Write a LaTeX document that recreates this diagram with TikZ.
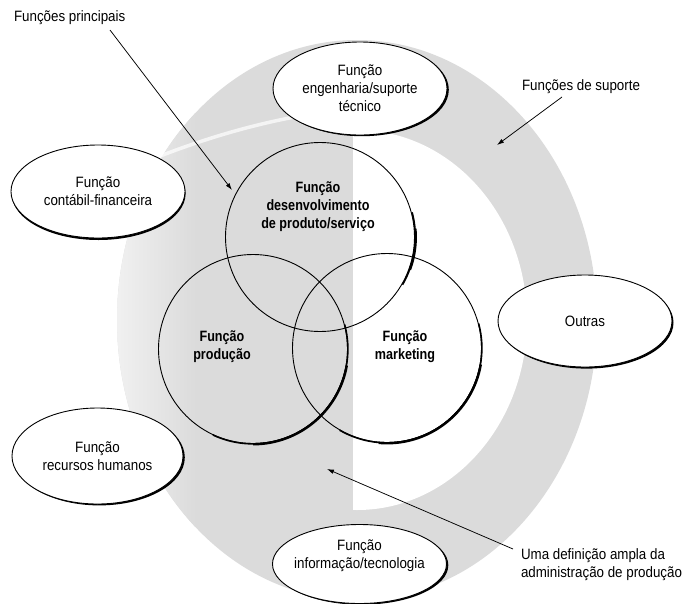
\documentclass[tikz,border=0pt]{standalone}
\usepackage{fontspec}
\setmainfont{Liberation Sans}[FakeStretch=0.89]
\newfontfamily\corefont{Liberation Sans}[FakeStretch=0.84]
\usetikzlibrary{shapes.geometric,arrows.meta,shadows}
\definecolor{ringgrey}{gray}{0.86}
\definecolor{edgegrey}{gray}{0.95}
\begin{document}
\begin{tikzpicture}[x=1pt,y=-1pt,
  every node/.style={inner sep=0pt, outer sep=0pt},
  txt/.style={font=\fontsize{15}{18}\selectfont, align=center},
  coretxt/.style={font=\corefont\bfseries\fontsize{15}{18}\selectfont, align=center},
  core/.style={circle, draw, line width=0.9pt, minimum size=189pt},
  support/.style={ellipse, draw, line width=0.9pt, fill=white,
    minimum width=174pt, minimum height=93pt, txt},
  rimshadow/.style 2 args={drop shadow={shadow xshift=#1pt, shadow yshift=#2pt,
    fill=black, opacity=1}},
  rim/.style={line width=1.6pt},
  rimheavy/.style={line width=2.4pt},
  pointer/.style={draw, line width=0.75pt, -{Latex[length=7pt,width=4.5pt]}},
]
% paper and the grey field of the operations area
\fill[white] (0,0) rectangle (683,603);
\fill[ringgrey] (357,320) ellipse [x radius=240, y radius=280];
\begin{scope}
  \clip (357,320) ellipse [x radius=240, y radius=280];
  \shade[left color=edgegrey, right color=ringgrey] (110,0) rectangle (195,603);
\end{scope}
\begin{scope}
  \clip (353,0) rectangle (683,603);
  \fill[white] (357,320) ellipse [x radius=170, y radius=190];
\end{scope}
\draw[white, opacity=0.7, line width=3.5pt, line cap=round]
  (150,160) .. controls (200,140) and (250,125) .. (300,116);
\useasboundingbox (0,0) rectangle (683,603);

% the three core functions
\node[core] (dev)  at (320,237) {};
\node[core] (prod) at (253,349) {};
\node[core] (mkt)  at (387,348) {};

% heavier rims on the lower right of the circles
\draw[rim]      ([shift={(-15:95.35)}]dev.center)  arc[start angle=-15, end angle=30,  radius=95.35];
\draw[rimheavy] ([shift={(-5:95.75)}]dev.center)   arc[start angle=-5,  end angle=20,  radius=95.75];
\draw[rim]      ([shift={(-15:94.85)}]prod.center) arc[start angle=-15, end angle=115, radius=94.85];
\draw[rimheavy] ([shift={(10:95.25)}]prod.center)  arc[start angle=10,  end angle=90,  radius=95.25];
\draw[rim]      ([shift={(-15:94.85)}]mkt.center)  arc[start angle=-15, end angle=120, radius=94.85];
\draw[rimheavy] ([shift={(10:95.25)}]mkt.center)   arc[start angle=10,  end angle=95,  radius=95.25];

\node[coretxt] (devtxt)  at (318,207) {Função\\desenvolvimento\\de produto/serviço};
\node[coretxt] (prodtxt) at (222,347) {Função\\produção};
\node[coretxt] (mkttxt)  at (405,347) {Função\\marketing};

% labels and pointers
\node[txt, anchor=west] (lblmain) at (14,17.5) {Funções principais};
\node[txt, anchor=west] (lblsup) at (522,87) {Funções de suporte};
\node[txt, anchor=west, align=left] (lblops) at (521,565)
  {Uma definição ampla da\\administração de produção};

\coordinate (mainS) at (110,30);  \coordinate (mainE) at (232,190);
\coordinate (supS)  at (562,97);  \coordinate (supE)  at (497,145);
\coordinate (opsS)  at (513,549); \coordinate (opsE)  at (327,469);
\draw[pointer] (mainS) -- (mainE);
\draw[pointer] (supS) -- (supE);
\draw[pointer] (opsS) -- (opsE);

% support functions
\node[support, rimshadow={1.8}{-1.2}] (eng) at (360,88.5)
  {Função\\engenharia/suporte\\técnico};
\node[support, rimshadow={0.6}{-2.0}] (fin) at (98,191.5)
  {Função\\contábil-financeira};
\node[support, rimshadow={1.5}{-1.6}, minimum height=92pt] (out) at (585,321) {Outras};
\node[support, rimshadow={1.8}{-1.4}, minimum width=171pt, minimum height=96pt] (hr)
  at (97.5,456) {Função\\recursos humanos};
\node[support, rimshadow={1.8}{-1.2}, minimum height=79pt] (it) at (359.5,564) {};
\node[txt] (ittxt) at (359.5,556) {Função\\informação/tecnologia};
\end{tikzpicture}
\end{document}
